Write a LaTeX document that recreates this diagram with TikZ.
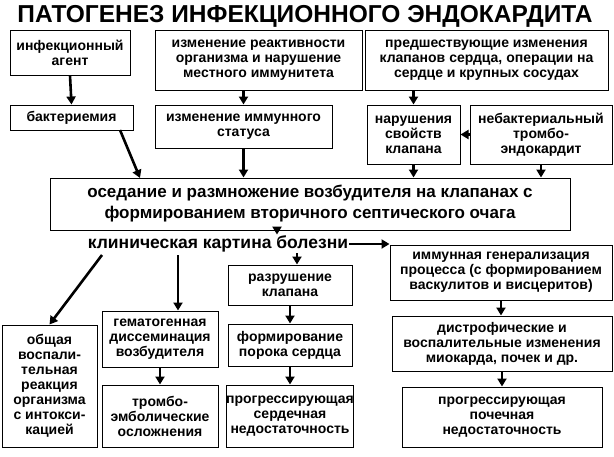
\documentclass[tikz,border=0pt]{standalone}
\usepackage{fontspec}
\setmainfont{Liberation Sans}
\usetikzlibrary{arrows.meta}
\begin{document}
\begin{tikzpicture}[x=1pt,y=-1pt,
  bx/.style={draw,line width=1pt,align=center,font=\bfseries\fontsize{14}{15}\selectfont,inner sep=0pt},
  ar/.style={line width=2.6pt,-{Triangle[length=8pt,width=9pt]}}]
\useasboundingbox[fill=white] (0,0) rectangle (614,456);
\node[font=\bfseries\fontsize{24.5}{26}\selectfont] (title) at (305,16) {ПАТОГЕНЕЗ ИНФЕКЦИОННОГО ЭНДОКАРДИТА};
\node[bx,minimum width=120,minimum height=45] (A) at (70,52.5) {инфекционный\\агент};
\node[bx,minimum width=207,minimum height=60] (B) at (258.5,60) {изменение реактивности\\организма и нарушение\\местного иммунитета};
\node[bx,minimum width=243,minimum height=60] (C) at (486.5,60) {предшествующие изменения\\клапанов сердца, операции на\\сердце и крупных сосудах};
\node[bx,minimum width=123,minimum height=25] (D) at (71.5,117.5) {бактериемия};
\node[bx,minimum width=177,minimum height=43] (E) at (243.5,126.5) {изменение иммунного\\статуса};
\node[bx,minimum width=93,minimum height=59] (F) at (413.5,134.5) {нарушения\\свойств\\клапана};
\node[bx,minimum width=142,minimum height=59] (G) at (541,134.5) {небактериальный\\тромбо-\\эндокардит};
\node[bx,minimum width=520,minimum height=52,font=\bfseries\fontsize{17}{21}\selectfont] (H) at (310,204) {оседание и размножение возбудителя на клапанах с\\формированием вторичного септического очага};
\node[font=\bfseries\fontsize{17.5}{18}\selectfont,inner sep=1pt] (clin) at (218,244) {клиническая картина болезни};
\node[bx,minimum width=222,minimum height=55] (I) at (501,272.5) {иммунная генерализация\\процесса (с формированием\\васкулитов и висцеритов)};
\node[bx,minimum width=124,minimum height=40] (J) at (290,285) {разрушение\\клапана};
\node[bx,minimum width=95,minimum height=122] (K) at (49.5,386) {общая\\воспали-\\тельная\\реакция\\организма\\с интокси-\\кацией};
\node[bx,minimum width=116,minimum height=56] (L) at (160,339) {гематогенная\\диссеминация\\возбудителя};
\node[bx,minimum width=124,minimum height=42] (M) at (290,345) {формирование\\порока сердца};
\node[bx,minimum width=220,minimum height=55] (N) at (502,343.5) {дистрофические и\\воспалительные изменения\\миокарда, почек и др.};
\node[bx,minimum width=116,minimum height=62] (O) at (160,416) {тромбо-\\эмболические\\осложнения};
\node[bx,minimum width=124,minimum height=62] (P) at (290,416) {прогрессирующая\\сердечная\\недостаточность};
\node[bx,minimum width=200,minimum height=60] (Q) at (502,417) {прогрессирующая\\почечная\\недостаточность};
\coordinate (c1) at (102,255);
\coordinate (c2) at (178,255);
\coordinate (c3) at (297,253);
\coordinate (c4) at (277,230);
\coordinate (c5) at (140,178);
\coordinate (c6) at (120,130);
\draw[ar] (A.south) -- (D.north);
\draw[ar] (B.south-|E.north) -- (E.north);
\draw[ar] (F.north|-C.south) -- (F.north);
\draw[ar] (G.west) -- (F.east);
\draw[ar] (c6) -- (c5);
\draw[ar] (E.south) -- (E.south|-H.north);
\draw[ar] (F.south) -- (F.south|-H.north);
\draw[ar] (G.south) -- (G.south|-H.north);
\draw[ar] (c4) -- (c4|-clin.north);
\draw[ar] (clin.east) -- (clin.east-|I.west);
\draw[ar] (c3) -- (c3|-J.north);
\draw[ar] (c1) -- (K.north);
\draw[ar] (c2) -- (c2|-L.north);
\draw[ar] (J.south) -- (M.north);
\draw[ar] (M.south) -- (P.north);
\draw[ar] (L.south) -- (O.north);
\draw[ar] (I.south) -- (I.south|-N.north);
\draw[ar] (N.south) -- (N.south|-Q.north);
\end{tikzpicture}
\end{document}
